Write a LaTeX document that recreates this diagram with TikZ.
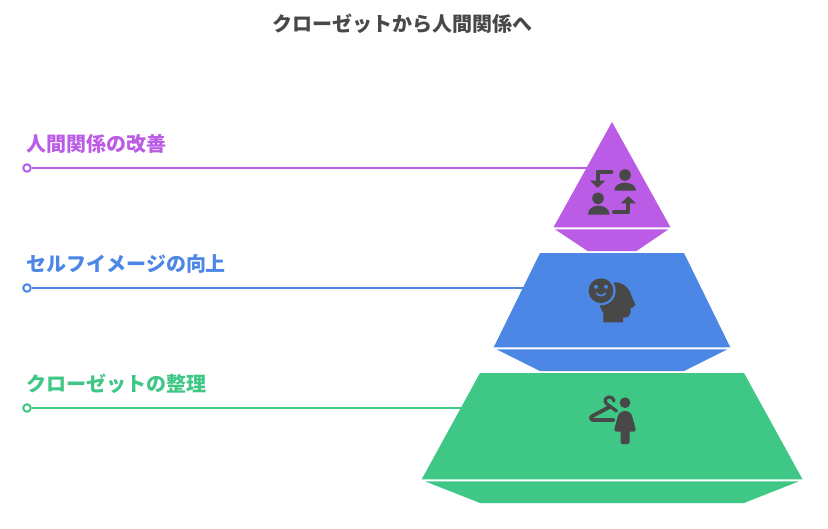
\documentclass[tikz,border=0pt]{standalone}
\usepackage{fontspec}
\setmainfont{Noto Sans CJK JP}
\definecolor{topcol}{HTML}{BB5CE6}
\definecolor{midcol}{HTML}{4D87E6}
\definecolor{lowcol}{HTML}{3EC785}
\definecolor{inkcol}{HTML}{484848}
\begin{document}
\begin{tikzpicture}[x=1pt,y=-1pt,
    labeltext/.style={anchor=west,inner sep=0pt,font=\fontsize{20}{24}\selectfont\bfseries},
    enddot/.style={circle,draw,fill=white,line width=2pt,minimum size=7.5pt,inner sep=0pt},
    leader/.style={line width=2pt},
    icon/.style={fill=inkcol,draw=none},
    iconline/.style={draw=inkcol,line width=3.8pt,line cap=round,line join=round}]
    \useasboundingbox (0,0) rectangle (828,528);

    % Title
    \node[anchor=center,inner sep=0pt,text=inkcol,font=\fontsize{20}{24}\selectfont\bfseries]
      (title) at (402.5,23.5) {クローゼットから人間関係へ};

    % Pyramid tiers: main face, then lower face
    \fill[topcol] (612,122) -- (670.5,227.3) -- (553.5,227.3) -- cycle;
    \fill[topcol] (555,229.3) -- (668.5,229.3) -- (636.5,251) -- (587.5,251) -- cycle;
    \fill[midcol] (540,253) -- (684,253) -- (730.3,347.3) -- (493.7,347.3) -- cycle;
    \fill[midcol] (496.5,349.3) -- (727.5,349.3) -- (684,371) -- (540,371) -- cycle;
    \fill[lowcol] (480,373) -- (744,373) -- (802.5,479.3) -- (421.7,479.3) -- cycle;
    \fill[lowcol] (425,481.3) -- (799,481.3) -- (744,503) -- (480,503) -- cycle;

    % Labels and leader lines
    \foreach \i/\yy/\xend/\col/\txt in {
        top/143/586.5/topcol/人間関係の改善,
        mid/263/523/midcol/セルフイメージの向上,
        low/383/460.5/lowcol/クローゼットの整理} {
      \node[labeltext,text=\col] (label\i) at (26.2,\yy+0.5) {\txt};
      \node[enddot,draw=\col] (dot\i) at (27,\yy+25) {};
      \coordinate (end\i) at (\xend,\yy+25);
      \draw[leader,draw=\col] (dot\i) -- (end\i);
    }

    % Icon on top tier: two people and two arrows
    \fill[icon] (625,175) circle[radius=5.8];
    \fill[icon] (614.3,190.5) .. controls (614.3,185.5) and (619.5,182.7) .. (625,182.7)
      .. controls (630.5,182.7) and (636,185.5) .. (636,190.5) -- cycle;
    \fill[icon] (598,198.3) circle[radius=5.8];
    \fill[icon] (588,214.5) .. controls (588,209) and (592.5,205.7) .. (598.5,205.7)
      .. controls (604.5,205.7) and (609.5,209) .. (609.5,214.5) -- cycle;
    \draw[iconline] (611.5,171.7) -- (597.7,171.7) -- (597.7,181);
    \fill[icon] (590,180.7) -- (605.2,180.7) -- (597.7,187.8) -- cycle;
    \draw[iconline] (614,212.3) -- (628.3,212.3) -- (628.3,203);
    \fill[icon] (620.8,203.3) -- (636,203.3) -- (628.3,196.2) -- cycle;

    % Icon on middle tier: head and smiling face
    \fill[icon] (615,282.3) .. controls (622,282.3) and (627,286) .. (630,292)
      .. controls (632,297) and (633.5,301) .. (635.5,304.5)
      .. controls (635.5,306.5) and (632,307.5) .. (630.5,308.5)
      -- (630.5,313) .. controls (630.5,316) and (628,317.7) .. (623,317.7)
      -- (623,322.3) -- (603.3,322.3) -- (603.3,313.3) -- (599.3,305) -- (601,290) -- cycle;
    \fill[midcol] (601,290.7) circle[radius=14.6];
    \fill[icon] (601,290.7) circle[radius=12.4];
    \fill[midcol] (596,286.8) circle[radius=2];
    \fill[midcol] (606,286.8) circle[radius=2];
    \draw[midcol,line width=1.6pt,line cap=round] (596.5,293.2) .. controls (598.5,296.4) and (603.5,296.4) .. (605.5,293.2);

    % Icon on bottom tier: hanger and person
    \draw[iconline,line width=3.2pt] (614,401) .. controls (613.5,397.5) and (609,395.8) .. (606.5,398)
      .. controls (604,400.5) and (605,403) .. (607.5,404.5) -- (616.5,411);
    \draw[iconline] (610,406.7) -- (592.5,416)
      .. controls (590,417.5) and (590.5,420) .. (593,420) -- (613.5,420);
    \fill[icon] (625,402.7) circle[radius=5.4];
    \fill[icon] (625,411) .. controls (630,411) and (631.5,414) .. (632.5,417.5)
      -- (635.6,429) .. controls (636,431) and (634.5,431.7) .. (633,431.7)
      -- (629.5,431.7) -- (629.5,442) .. controls (629.5,443.5) and (628.5,444) .. (627.5,444)
      -- (622.5,444) .. controls (621.5,444) and (620.7,443.5) .. (620.7,442)
      -- (620.7,431.7) -- (617,431.7) .. controls (615.5,431.7) and (614,431) .. (614.4,429)
      -- (617.5,417.5) .. controls (618.5,414) and (620,411) .. (625,411) -- cycle;
\end{tikzpicture}
\end{document}
